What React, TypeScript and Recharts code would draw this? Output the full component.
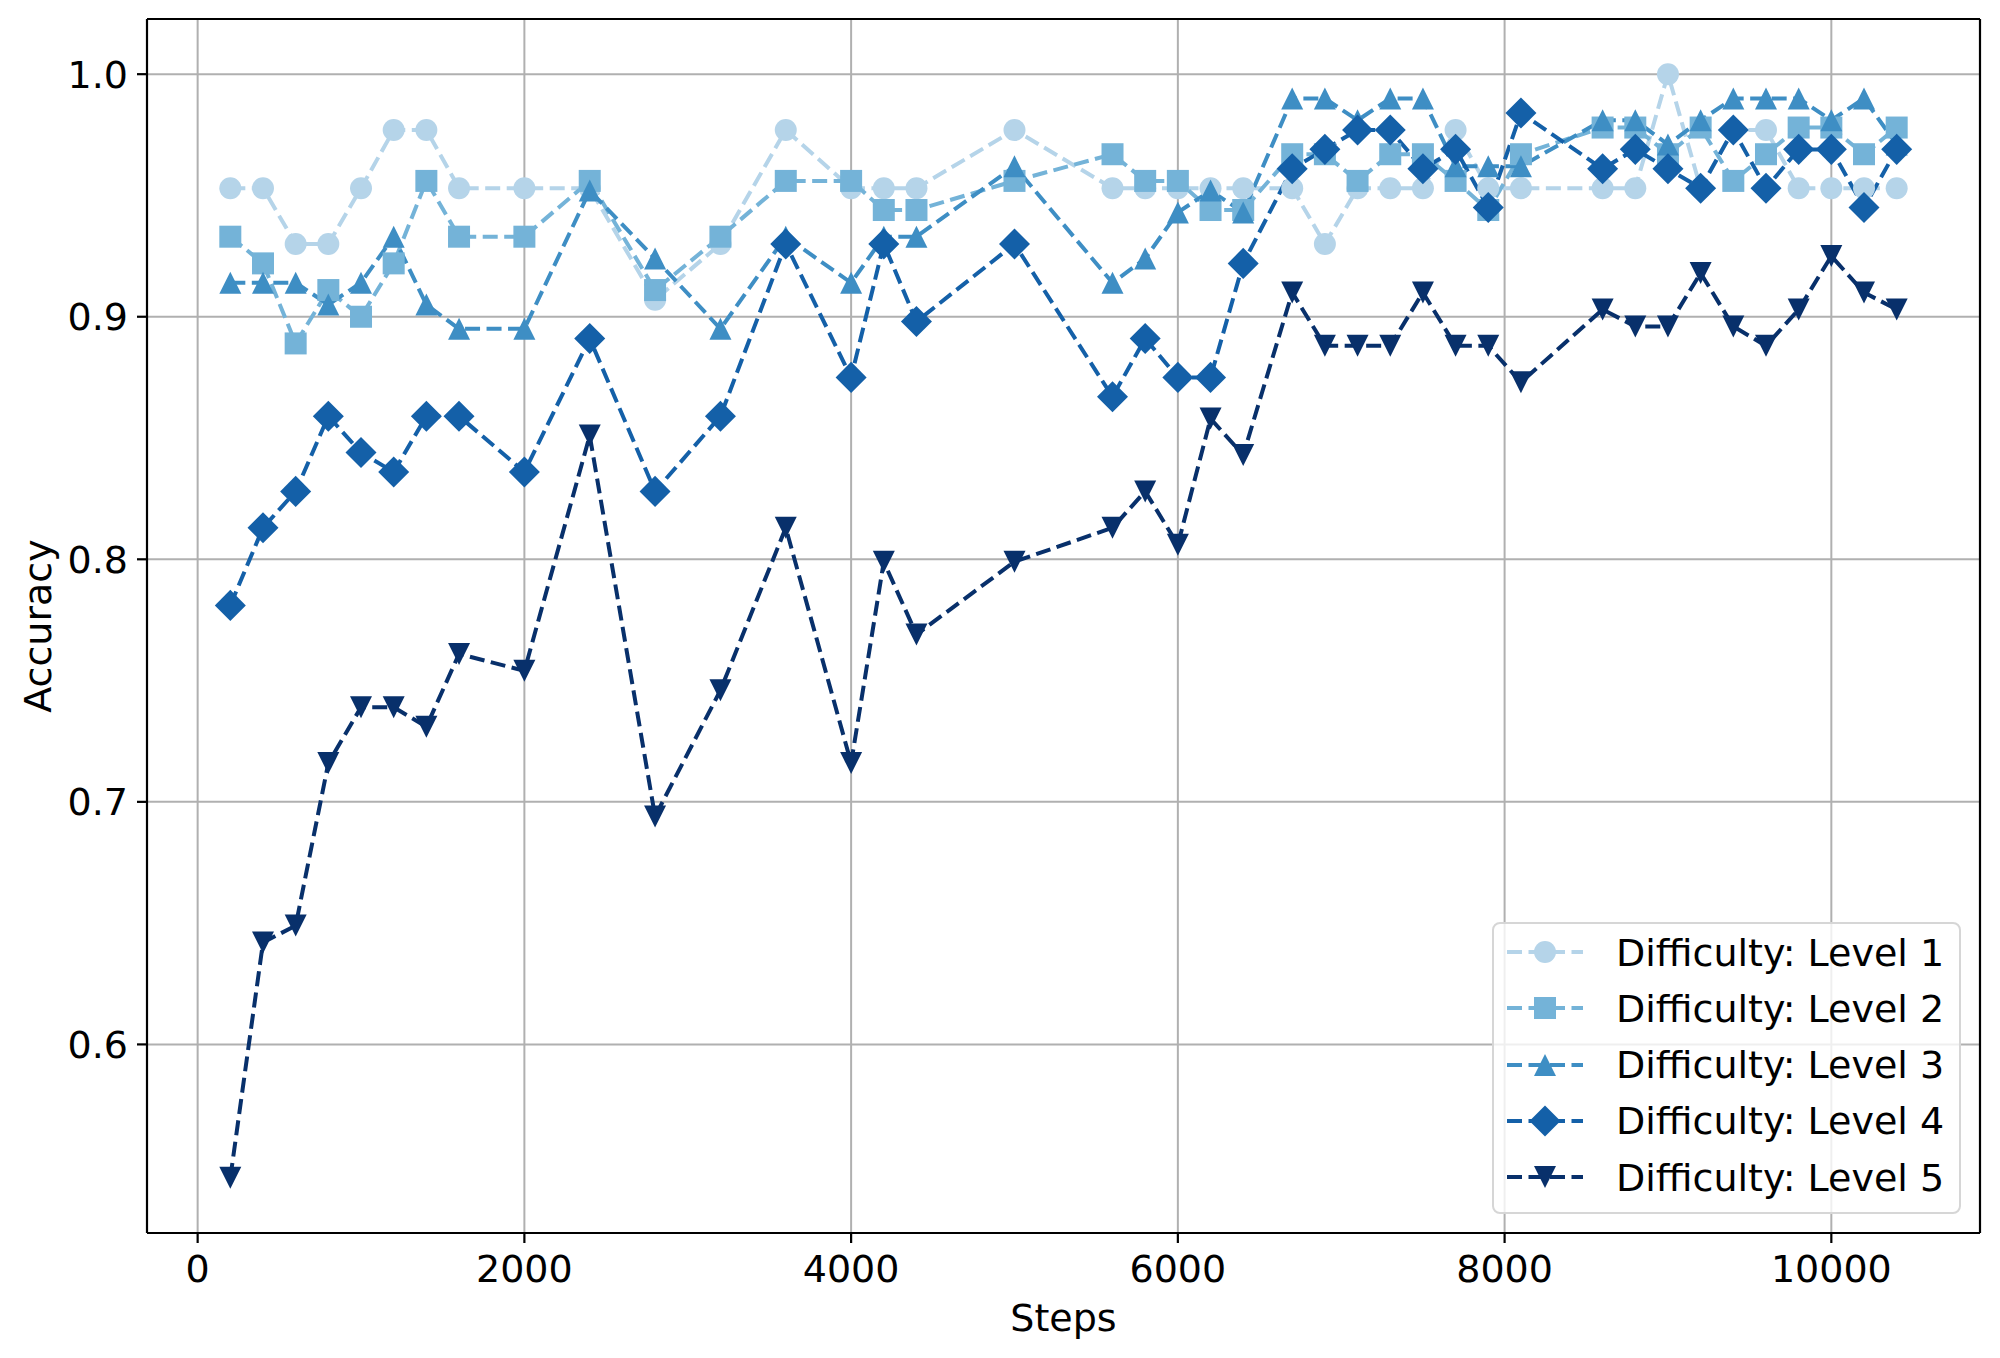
import React from "react";
import {
  LineChart,
  Line,
  XAxis,
  YAxis,
  CartesianGrid,
  ReferenceLine,
  Label,
} from "recharts";

// training steps (x)
const STEPS = [
  200, 400, 600, 800, 1000, 1200, 1400, 1600, 2000, 2400, 2800, 3200, 3600, 4000,
  4200, 4400, 5000, 5600, 5800, 6000, 6200, 6400, 6700, 6900, 7100, 7300, 7500,
  7700, 7900, 8100, 8600, 8800, 9000, 9200, 9400, 9600, 9800, 10000, 10200, 10400,
];

// accuracy per difficulty level
const LEVEL_1 = [
  0.953, 0.953, 0.93, 0.93, 0.953, 0.977, 0.977, 0.953, 0.953, 0.953, 0.907, 0.93,
  0.977, 0.953, 0.953, 0.953, 0.977, 0.953, 0.953, 0.953, 0.953, 0.953, 0.953, 0.93,
  0.953, 0.953, 0.953, 0.977, 0.953, 0.953, 0.953, 0.953, 1.0, 0.953, 0.977, 0.977,
  0.953, 0.953, 0.953, 0.953,
];
const LEVEL_2 = [
  0.933, 0.922, 0.889, 0.911, 0.9, 0.922, 0.956, 0.933, 0.933, 0.956, 0.911, 0.933,
  0.956, 0.956, 0.944, 0.944, 0.956, 0.967, 0.956, 0.956, 0.944, 0.944, 0.967, 0.967,
  0.956, 0.967, 0.967, 0.956, 0.944, 0.967, 0.978, 0.978, 0.967, 0.978, 0.956, 0.967,
  0.978, 0.978, 0.967, 0.978,
];
const LEVEL_3 = [
  0.914, 0.914, 0.914, 0.905, 0.914, 0.933, 0.905, 0.895, 0.895, 0.952, 0.924, 0.895,
  0.933, 0.914, 0.933, 0.933, 0.962, 0.914, 0.924, 0.943, 0.952, 0.943, 0.99, 0.99,
  0.981, 0.99, 0.99, 0.962, 0.962, 0.962, 0.981, 0.981, 0.971, 0.981, 0.99, 0.99,
  0.99, 0.981, 0.99, 0.971,
];
const LEVEL_4 = [
  0.781, 0.813, 0.828, 0.859, 0.844, 0.836, 0.859, 0.859, 0.836, 0.891, 0.828, 0.859,
  0.93, 0.875, 0.93, 0.898, 0.93, 0.867, 0.891, 0.875, 0.875, 0.922, 0.961, 0.969,
  0.977, 0.977, 0.961, 0.969, 0.945, 0.984, 0.961, 0.969, 0.961, 0.953, 0.977, 0.953,
  0.969, 0.969, 0.945, 0.969,
];
const LEVEL_5 = [
  0.545, 0.642, 0.649, 0.716, 0.739, 0.739, 0.731, 0.761, 0.754, 0.851, 0.694, 0.746,
  0.813, 0.716, 0.799, 0.769, 0.799, 0.813, 0.828, 0.806, 0.858, 0.843, 0.91, 0.888,
  0.888, 0.888, 0.91, 0.888, 0.888, 0.873, 0.903, 0.896, 0.896, 0.918, 0.896, 0.888,
  0.903, 0.925, 0.91, 0.903,
];

const X_TICKS = [0, 2000, 4000, 6000, 8000, 10000];
const Y_TICKS = [0.6, 0.7, 0.8, 0.9, 1.0];
const X_DOMAIN = [-310, 10910];
const Y_DOMAIN = [0.52225, 1.02275];

const SERIES = [
  { key: "l1", name: "Difficulty: Level 1", values: LEVEL_1, color: "#b5d4e9", shape: "circle" },
  { key: "l2", name: "Difficulty: Level 2", values: LEVEL_2, color: "#74b3d8", shape: "square" },
  { key: "l3", name: "Difficulty: Level 3", values: LEVEL_3, color: "#3e8ec4", shape: "up" },
  { key: "l4", name: "Difficulty: Level 4", values: LEVEL_4, color: "#1460a8", shape: "diamond" },
  { key: "l5", name: "Difficulty: Level 5", values: LEVEL_5, color: "#08306b", shape: "down" },
];

const data = STEPS.map((step, i) => {
  const row: Record<string, number> = { step };
  SERIES.forEach((s) => (row[s.key] = s.values[i]));
  return row;
});

const FONT = "DejaVu Sans";
const FS = 38;
const DASH = "15 6.5";

function Marker({ shape, cx, cy, color, size = 22 }: any) {
  const h = size / 2;
  if (shape === "circle") return <circle cx={cx} cy={cy} r={h} fill={color} />;
  if (shape === "square")
    return <rect x={cx - h} y={cy - h} width={size} height={size} fill={color} />;
  if (shape === "up")
    return (
      <polygon points={`${cx},${cy - h} ${cx - h},${cy + h} ${cx + h},${cy + h}`} fill={color} />
    );
  if (shape === "down")
    return (
      <polygon points={`${cx - h},${cy - h} ${cx + h},${cy - h} ${cx},${cy + h}`} fill={color} />
    );
  const d = h * 1.41;
  return (
    <polygon
      points={`${cx},${cy - d} ${cx + d},${cy} ${cx},${cy + d} ${cx - d},${cy}`}
      fill={color}
    />
  );
}

function LegendBox() {
  return (
    <div
      style={{
        position: "absolute",
        left: 1492,
        top: 922,
        width: 469,
        height: 292,
        boxSizing: "border-box",
        border: "2px solid #d6d6d6",
        borderRadius: 8,
        background: "rgba(255,255,255,0.8)",
        fontFamily: FONT,
      }}
    >
      {SERIES.map((s, i) => {
        const cy = 28 + i * 56.25;
        return (
          <React.Fragment key={s.key}>
            <svg
              width={100}
              height={40}
              style={{ position: "absolute", left: 0, top: cy - 20 }}
            >
              <line
                x1={13}
                x2={89}
                y1={20}
                y2={20}
                stroke={s.color}
                strokeWidth={4}
                strokeDasharray={DASH}
              />
              <Marker shape={s.shape} cx={51} cy={20} color={s.color} />
            </svg>
            <div
              style={{
                position: "absolute",
                left: 122,
                top: cy - 18.3,
                fontSize: FS,
                lineHeight: 1,
                whiteSpace: "nowrap",
                color: "#000",
              }}
            >
              {s.name}
            </div>
          </React.Fragment>
        );
      })}
    </div>
  );
}

export default function App() {
  const tickStyle = { fill: "#000", fontSize: FS, fontFamily: FONT };
  return (
    <div
      style={{
        position: "absolute",
        left: 0,
        top: 0,
        width: 2000,
        height: 1358,
        background: "#fff",
        fontFamily: FONT,
      }}
    >
      <LineChart
        width={2000}
        height={1358}
        data={data}
        margin={{ top: 19, right: 20, bottom: 0, left: 0 }}
      >
        <CartesianGrid stroke="#b0b0b0" strokeWidth={2} />
        <XAxis
          dataKey="step"
          type="number"
          domain={X_DOMAIN}
          ticks={X_TICKS}
          allowDataOverflow
          height={125}
          tick={tickStyle}
          tickSize={10}
          tickMargin={12}
          tickLine={{ stroke: "#000", strokeWidth: 2.2 }}
          axisLine={{ stroke: "#000", strokeWidth: 2.2 }}
          tickFormatter={(v) => String(v)}
        >
          <Label
            content={({ viewBox }: any) => (
              <text
                x={viewBox.x + viewBox.width / 2}
                y={viewBox.y + 85}
                textAnchor="middle"
                dominantBaseline="central"
                fontSize={FS}
                fontFamily={FONT}
                fill="#000"
              >
                Steps
              </text>
            )}
          />
        </XAxis>
        <YAxis
          type="number"
          domain={Y_DOMAIN}
          ticks={Y_TICKS}
          allowDataOverflow
          width={147}
          tick={tickStyle}
          tickSize={10}
          tickMargin={9}
          tickLine={{ stroke: "#000", strokeWidth: 2.2 }}
          axisLine={{ stroke: "#000", strokeWidth: 2.2 }}
          tickFormatter={(v) => Number(v).toFixed(1)}
        >
          <Label
            content={({ viewBox }: any) => {
              const x = viewBox.x + 38;
              const y = viewBox.y + viewBox.height / 2;
              return (
                <text
                  x={x}
                  y={y}
                  transform={`rotate(-90 ${x} ${y})`}
                  textAnchor="middle"
                  dominantBaseline="central"
                  fontSize={FS}
                  fontFamily={FONT}
                  fill="#000"
                >
                  Accuracy
                </text>
              );
            }}
          />
        </YAxis>
        <ReferenceLine y={Y_DOMAIN[1]} stroke="#000" strokeWidth={2.2} />
        <ReferenceLine x={X_DOMAIN[1]} stroke="#000" strokeWidth={2.2} />
        {SERIES.map((s) => (
          <Line
            key={s.key}
            type="linear"
            dataKey={s.key}
            name={s.name}
            stroke={s.color}
            strokeWidth={4}
            strokeDasharray={DASH}
            isAnimationActive={false}
            activeDot={false}
            dot={(p: any) => (
              <Marker
                key={`${s.key}-${p.index}`}
                shape={s.shape}
                cx={p.cx}
                cy={p.cy}
                color={s.color}
              />
            )}
          />
        ))}
      </LineChart>
      <LegendBox />
    </div>
  );
}
